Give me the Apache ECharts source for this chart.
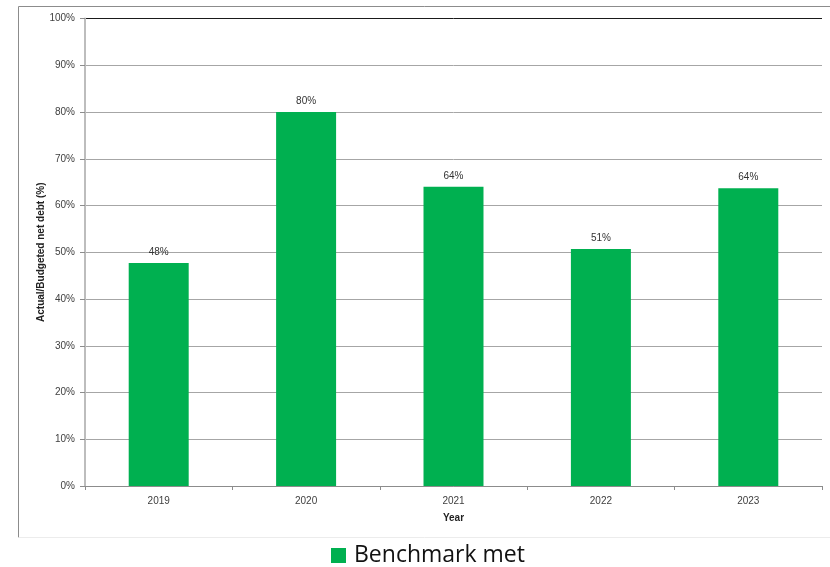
<!DOCTYPE html>
<html>
<head>
<meta charset="utf-8">
<script src="https://cdn.jsdelivr.net/npm/echarts@6/dist/echarts.min.js"></script>
<style>
  html, body { margin: 0; padding: 0; background: #fff; }
  #chart { width: 830px; height: 567px; }
</style>
</head>
<body>
<div id="chart"></div>
<script>
// Share of budgeted net debt actually reached, by year
const years = ['2019', '2020', '2021', '2022', '2023'];
const benchmarkMet = [47.7, 80.0, 64.0, 50.7, 63.7];
const yTicks = [0, 10, 20, 30, 40, 50, 60, 70, 80, 90, 100];

const chart = echarts.init(document.getElementById('chart'), null, { renderer: 'canvas' });

const gridColors = yTicks.map((t, i) => (i === yTicks.length - 1 ? '#1a1a1a' : '#a6a6a6'));
const labelFont = '"Liberation Sans", Arial, sans-serif';

chart.setOption({
  animation: false,
  backgroundColor: '#fff',
  graphic: [
    // chart frame
    { type: 'line', shape: { x1: 18.5, y1: 6.5, x2: 830, y2: 6.5 }, style: { stroke: '#8c8c8c', lineWidth: 1 } },
    { type: 'line', shape: { x1: 18.5, y1: 6.5, x2: 18.5, y2: 537.5 }, style: { stroke: '#8c8c8c', lineWidth: 1 } },
    { type: 'line', shape: { x1: 18.5, y1: 537.5, x2: 830, y2: 537.5 }, style: { stroke: '#ececec', lineWidth: 1 } }
  ],
  grid: { left: 85, right: 8, top: 18.5, bottom: 81, containLabel: false },
  legend: {
    data: ['Benchmark met'],
    top: 539,
    left: 326,
    icon: 'rect',
    itemWidth: 15,
    itemHeight: 15,
    itemGap: 10,
    textStyle: { fontSize: 23, color: '#111', padding: [0, 0, 0, 3], fontFamily: '"Open Sans", "Noto Sans", sans-serif' }
  },
  xAxis: {
    type: 'category',
    data: years,
    name: 'Year',
    nameLocation: 'middle',
    nameGap: 27,
    nameMoveOverlap: false,
    nameTextStyle: { fontSize: 10, fontWeight: 'bold', color: '#222', fontFamily: labelFont },
    axisLine: { lineStyle: { color: '#8c8c8c', width: 1 } },
    axisTick: { show: true, length: 4, interval: 0, lineStyle: { color: '#8c8c8c' } },
    axisLabel: { fontSize: 10, color: '#404040', margin: 10, fontFamily: labelFont }
  },
  yAxis: {
    type: 'value',
    min: 0,
    max: 100,
    interval: 10,
    name: 'Actual/Budgeted net debt (%)',
    nameLocation: 'middle',
    nameGap: 39,
    nameMoveOverlap: false,
    nameRotate: 90,
    nameTextStyle: { fontSize: 10, fontWeight: 'bold', color: '#222', fontFamily: labelFont },
    axisLine: { show: true, lineStyle: { color: '#bdbdbd', width: 2 } },
    axisTick: { show: true, length: 5, lineStyle: { color: '#8c8c8c' } },
    axisLabel: { fontSize: 10, color: '#404040', margin: 10, formatter: '{value}%', fontFamily: labelFont },
    splitLine: { show: true, lineStyle: { color: gridColors, width: 1 } }
  },
  series: [{
    name: 'Benchmark met',
    type: 'bar',
    data: benchmarkMet,
    barWidth: '40.7%',
    itemStyle: { color: '#00b050' },
    label: {
      show: true,
      position: 'top',
      distance: 6,
      fontSize: 10,
      color: '#333',
      fontFamily: labelFont,
      formatter: p => Math.round(p.value) + '%'
    }
  }]
});
</script>
</body>
</html>
